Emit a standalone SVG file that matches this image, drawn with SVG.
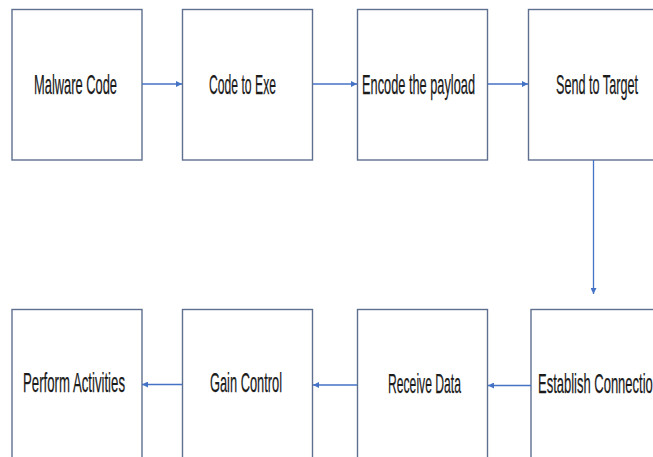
<svg xmlns="http://www.w3.org/2000/svg" width="653" height="457" viewBox="0 0 653 457">
  <style>
    .box { fill: #ffffff; stroke: #5f6f8f; stroke-width: 1.4; }
    .lbl { font-family: "Liberation Sans", Arial, sans-serif; font-size: 28.5px; fill: #1a1a1a; stroke: #1a1a1a; stroke-width: 0.25; }
    .link { stroke: #4472c4; stroke-width: 1.3; fill: none; marker-end: url(#head); }
  </style>
  <defs>
    <marker id="head" viewBox="0 0 10 10" refX="10" refY="5" markerWidth="6" markerHeight="6" markerUnits="userSpaceOnUse" orient="auto">
      <path d="M0,0 L10,5 L0,10 z" fill="#4472c4"/>
    </marker>
  </defs>
  <rect width="653" height="457" fill="#ffffff"/>

  <!-- top row -->
  <g id="malware-code">
    <rect class="box" x="12" y="9.5" width="130" height="150.5"/>
    <text class="lbl" x="34" y="93.5" textLength="83" lengthAdjust="spacingAndGlyphs">Malware Code</text>
  </g>
  <g id="code-to-exe">
    <rect class="box" x="182.5" y="9.5" width="130" height="150.5"/>
    <text class="lbl" x="209" y="93.5" textLength="67" lengthAdjust="spacingAndGlyphs">Code to Exe</text>
  </g>
  <g id="encode-payload">
    <rect class="box" x="357.5" y="9.5" width="130" height="150.5"/>
    <text class="lbl" x="362" y="93.5" textLength="113" lengthAdjust="spacingAndGlyphs">Encode the payload</text>
  </g>
  <g id="send-to-target">
    <rect class="box" x="528.5" y="9.5" width="131" height="150.5"/>
    <text class="lbl" x="556" y="93.5" textLength="82" lengthAdjust="spacingAndGlyphs">Send to Target</text>
  </g>

  <!-- bottom row -->
  <g id="perform-activities">
    <rect class="box" x="12" y="309.5" width="130" height="160"/>
    <text class="lbl" x="23" y="392" textLength="102" lengthAdjust="spacingAndGlyphs">Perform Activities</text>
  </g>
  <g id="gain-control">
    <rect class="box" x="182.5" y="309.5" width="130" height="160"/>
    <text class="lbl" x="210" y="392" textLength="72" lengthAdjust="spacingAndGlyphs">Gain Control</text>
  </g>
  <g id="receive-data">
    <rect class="box" x="357.5" y="309.5" width="130" height="160"/>
    <text class="lbl" x="388" y="392.5" textLength="73" lengthAdjust="spacingAndGlyphs">Receive Data</text>
  </g>
  <g id="establish-connection">
    <rect class="box" x="531" y="309.5" width="131" height="160"/>
    <text class="lbl" x="538" y="393" textLength="122" lengthAdjust="spacingAndGlyphs">Establish Connection</text>
  </g>

  <!-- connectors -->
  <g id="connectors">
    <line class="link" x1="142" y1="84" x2="182" y2="84"/>
    <line class="link" x1="313" y1="84" x2="357" y2="84"/>
    <line class="link" x1="488" y1="84" x2="528" y2="84"/>
    <line class="link" x1="593.5" y1="160" x2="593.5" y2="294"/>
    <line class="link" x1="531" y1="385.5" x2="488" y2="385.5"/>
    <line class="link" x1="357" y1="385" x2="313" y2="385"/>
    <line class="link" x1="182" y1="384.5" x2="142" y2="384.5"/>
  </g>
</svg>
